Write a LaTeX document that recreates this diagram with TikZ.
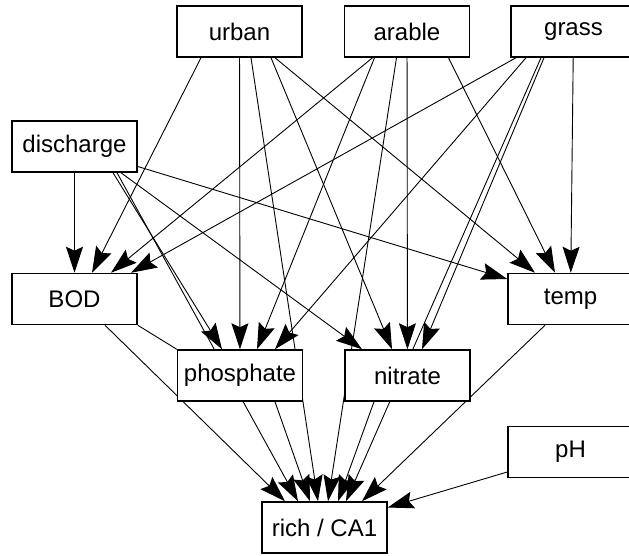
\documentclass[tikz,border=0pt]{standalone}
\usepackage{fontspec}
\setmainfont{Liberation Sans}
\usetikzlibrary{arrows.meta, positioning, backgrounds}

\begin{document}
\begin{tikzpicture}[
    x=1pt, y=-1pt,
    var/.style={rectangle, draw, line width=1.5pt, fill=white, minimum width=125pt, minimum height=51pt, inner sep=0pt, font=\fontsize{24}{26}\selectfont},
    arrow/.style={-{Stealth[length=26pt,width=17pt,inset=4pt]}, line width=0.9pt},
    link/.style={line width=0.9pt}
]
\clip (0,0) rectangle (629,556);

\node[var] (urban) at (239.5,31.5) {urban};
\node[var, right=41pt of urban] (arable) {arable};
\node[var, right=40pt of arable] (grass) {grass};
\node[var] (discharge) at (74.5,146.5) {discharge};
\node[var] (BOD) at (74.5,299) {BOD};
\node[var] (temp) at (570.5,299) {temp};
\node[var] (phosphate) at (240,375.5) {phosphate};
\node[var, right=41pt of phosphate] (nitrate) {nitrate};
\node[var] (pH) at (570.5,452) {pH};
\node[var] (rich) at (324.5,527.5) {rich / CA1};

\begin{scope}[on background layer]
\fill[white] (0,0) rectangle (629,556);

\draw[arrow] (discharge) -- (BOD);
\draw[arrow] ([xshift=38.5pt]discharge.south) -- ([xshift=-18pt]phosphate.north);
\draw[arrow] ([xshift=42.5pt]discharge.south) -- ([xshift=-26.5pt]rich.north);
\draw[arrow] ([xshift=46.5pt]discharge.south) -- ([xshift=-45.5pt]nitrate.north);
\draw[arrow] ([yshift=-20pt]discharge.east) -- ([yshift=20pt]temp.west);

\draw[arrow] ([xshift=-38.5pt]urban.south) -- ([xshift=17.5pt]BOD.north);
\draw[arrow] (urban) -- (phosphate);
\draw[arrow] ([xshift=11.5pt]urban.south) -- ([xshift=-6.5pt]rich.north);
\draw[arrow] ([xshift=31.5pt]urban.south) -- ([xshift=-15.5pt]nitrate.north);
\draw[arrow] ([xshift=35.5pt]urban.south) -- ([xshift=-35.5pt]temp.north);

\draw[arrow] ([xshift=-34.5pt]arable.south) -- ([xshift=36.5pt]BOD.north);
\draw[arrow] ([xshift=-32.5pt]arable.south) -- ([xshift=17pt]phosphate.north);
\draw[arrow] ([xshift=-10.5pt]arable.south) -- ([xshift=3.5pt]rich.north);
\draw[arrow] (arable) -- (nitrate);
\draw[arrow] ([xshift=41.5pt]arable.south) -- ([xshift=-15.5pt]temp.north);

\draw[arrow] ([xshift=-57.5pt]grass.south) -- ([xshift=56.5pt]BOD.north);
\draw[arrow] ([xshift=-47.5pt]grass.south) -- ([xshift=35pt]phosphate.north);
\draw[arrow] ([xshift=-29.5pt]grass.south) -- ([xshift=14.5pt]nitrate.north);
\draw[arrow] ([xshift=-32.5pt]grass.south) -- ([xshift=21.5pt]rich.north);
\draw[arrow] (grass) -- (temp);

\draw[arrow] ([xshift=30.5pt]BOD.south) -- ([xshift=-39.5pt]rich.north);
\draw[link] (BOD.south east) -- (phosphate.north west);
\draw[arrow] ([xshift=35pt]phosphate.south) -- ([xshift=-14.5pt]rich.north);
\draw[arrow] ([xshift=-33.5pt]nitrate.south) -- ([xshift=13.5pt]rich.north);
\draw[arrow] ([xshift=-25.5pt]temp.south) -- ([xshift=37.5pt]rich.north);
\draw[arrow] ([yshift=-20pt]pH.west) -- ([yshift=20pt]rich.east);
\end{scope}

\end{tikzpicture}
\end{document}
